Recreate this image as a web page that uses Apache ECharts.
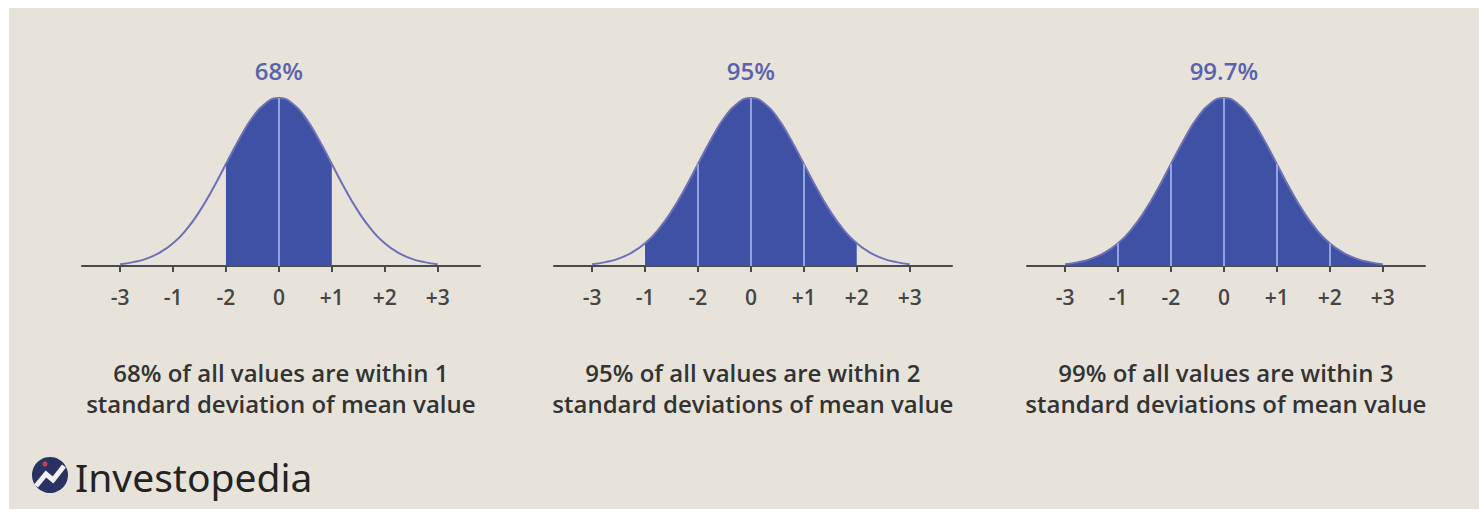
<!DOCTYPE html>
<html>
<head>
<meta charset="utf-8">
<script src="https://cdn.jsdelivr.net/npm/echarts@6/dist/echarts.min.js"></script>
<style>
  html, body { margin: 0; padding: 0; background: #ffffff; }
  #chart { width: 1479px; height: 509px; }
</style>
</head>
<body>
<div id="chart"></div>
<script>
// curve sampled every quarter standard deviation, height relative to the peak
const sigmaX = [-3, -2.75, -2.5, -2.25, -2, -1.75, -1.5, -1.25, -1, -0.75, -0.5, -0.25, 0,
  0.25, 0.5, 0.75, 1, 1.25, 1.5, 1.75, 2, 2.25, 2.5, 2.75, 3];
const curveHeight = [1.1, 2.3, 4.4, 8, 13.5, 21.6, 32.5, 45.8, 60.7, 75.5, 88.3, 96.9, 100,
  96.9, 88.3, 75.5, 60.7, 45.8, 32.5, 21.6, 13.5, 8, 4.4, 2.3, 1.1];
const tickValues = [-3, -2, -1, 0, 1, 2, 3];
const tickLabels = ["-3", "-1", "-2", "0", "+1", "+2", "+3"];
const percentLabels = ["68%", "95%", "99.7%"];
const shadedSigma = [1, 2, 3];
const captionsLine1 = [
  "68% of all values are within 1",
  "95% of all values are within 2",
  "99% of all values are within 3"
];
const captionsLine2 = [
  "standard deviation of mean value",
  "standard deviations of mean value",
  "standard deviations of mean value"
];

const chart = echarts.init(document.getElementById("chart"), null, { renderer: "svg" });

const panelLeft = [82, 554, 1027];
const panelWidth = 398;
const axisMin = -3.72;
const axisMax = 3.8;
const fillColor = "#3f51a4";

const curvePoints = sigmaX.map((x, i) => [x, curveHeight[i]]);

const grids = [], xAxes = [], yAxes = [], series = [], graphics = [];

panelLeft.forEach((left, p) => {
  grids.push({ left: left, width: panelWidth, top: 98, bottom: 243 });
  xAxes.push({
    type: "value",
    gridIndex: p,
    min: axisMin,
    max: axisMax,
    axisLine: { lineStyle: { color: "#4a4a4a", width: 2 } },
    axisTick: { customValues: tickValues, length: 6, lineStyle: { color: "#4a4a4a", width: 2 } },
    axisLabel: {
      customValues: tickValues,
      margin: 20,
      fontFamily: "Open Sans",
      fontWeight: 600,
      fontSize: 21,
      color: "#454545",
      formatter: (v) => tickLabels[tickValues.indexOf(Math.round(v))]
    },
    splitLine: { show: false }
  });
  yAxes.push({ type: "value", gridIndex: p, min: 0, max: 100, show: false });

  const s = shadedSigma[p];
  const separators = tickValues
    .filter((v) => Math.abs(v) < s)
    .map((v) => [{ coord: [v, 0] }, { coord: [v, curveHeight[sigmaX.indexOf(v)]] }]);

  series.push({
    type: "line",
    xAxisIndex: p,
    yAxisIndex: p,
    smooth: true,
    symbol: "none",
    silent: true,
    data: curvePoints.filter((pt) => Math.abs(pt[0]) <= s),
    lineStyle: { width: 0 },
    areaStyle: { color: fillColor, opacity: 1 },
    markLine: {
      silent: true,
      symbol: ["none", "none"],
      label: { show: false },
      lineStyle: { color: "#93a3e2", width: 2, type: "solid" },
      data: separators
    },
    z: 2
  });
  series.push({
    type: "line",
    xAxisIndex: p,
    yAxisIndex: p,
    smooth: true,
    symbol: "none",
    silent: true,
    data: curvePoints,
    lineStyle: { color: "#6d70b4", width: 2 },
    z: 3
  });

  const center = left + (0 - axisMin) / (axisMax - axisMin) * panelWidth;
  graphics.push({
    type: "text", x: center, y: 70,
    style: { text: percentLabels[p], fill: "#5a62ad", font: "600 24px 'Open Sans'", textAlign: "center", textVerticalAlign: "middle" }
  });
  graphics.push({
    type: "text", x: center + 2, y: 372,
    style: { text: captionsLine1[p], fill: "#333333", font: "600 24px 'Open Sans'", textAlign: "center", textVerticalAlign: "middle" }
  });
  graphics.push({
    type: "text", x: center + 2, y: 403,
    style: { text: captionsLine2[p], fill: "#333333", font: "600 24px 'Open Sans'", textAlign: "center", textVerticalAlign: "middle" }
  });
});

// white frame around the picture
graphics.push({ type: "rect", shape: { x: 0, y: 0, width: 9, height: 509 }, style: { fill: "#ffffff" } });
graphics.push({ type: "rect", shape: { x: 0, y: 0, width: 1479, height: 8 }, style: { fill: "#ffffff" } });

// logo
graphics.push({ type: "circle", shape: { cx: 50, cy: 475, r: 18 }, style: { fill: "#2a3262" } });
graphics.push({
  type: "polyline",
  shape: { points: [[36, 486], [46, 474], [53, 480], [64, 466]] },
  style: { stroke: "#f2f2f2", lineWidth: 5, fill: null, lineJoin: "miter" }
});
graphics.push({ type: "circle", shape: { cx: 45, cy: 464, r: 2.5 }, style: { fill: "#c0474f" } });
graphics.push({
  type: "text", x: 75, y: 476,
  style: { text: "Investopedia", fill: "#232323", font: "400 39px 'Noto Sans'", textVerticalAlign: "middle" }
});

chart.setOption({
  backgroundColor: "#e7e3db",
  animation: false,
  grid: grids,
  xAxis: xAxes,
  yAxis: yAxes,
  series: series,
  graphic: graphics
});
</script>
</body>
</html>
